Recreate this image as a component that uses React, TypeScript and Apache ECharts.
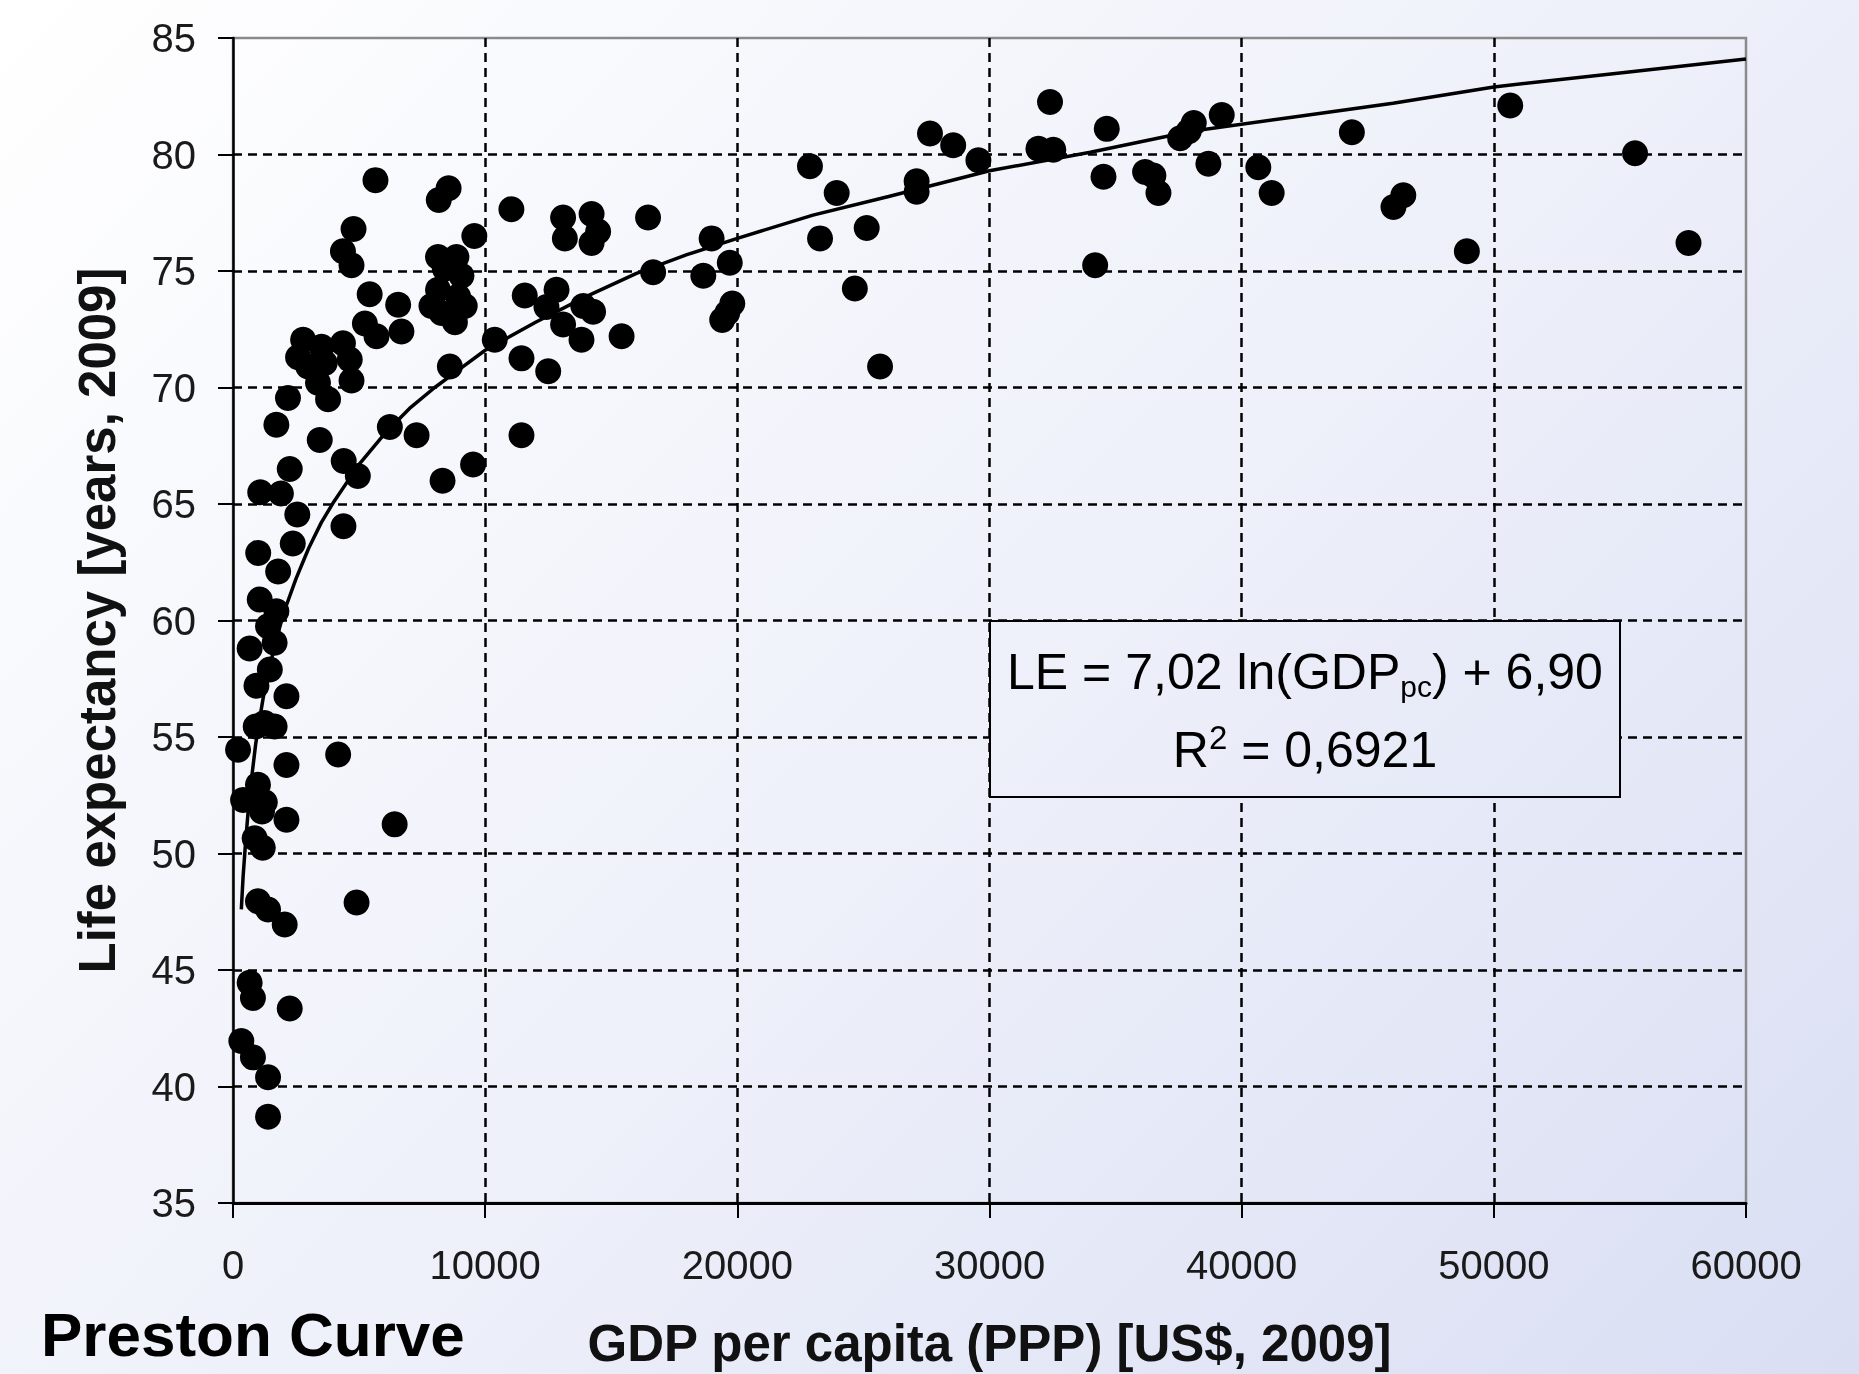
import React, { useEffect, useRef } from "react";
import * as echarts from "echarts";

// GDP per capita (PPP) [US$, 2009] of each country
const gdpPerCapita = [
  5650, 8550, 8160, 4780, 4360, 4700, 9570, 11040, 13090, 13160,
  14220, 14480, 14220, 16460, 8130, 8860, 9060, 8400, 8130, 7870,
  8930, 9190, 8800, 8270, 5420, 6550, 6680, 5230, 5690, 2780,
  2580, 2980, 3510, 3640, 4360, 4630, 4700, 3370, 3770, 2180,
  1720, 3440, 6220, 7280, 8600, 10380, 4390, 4950, 2250, 9520,
  8310, 1080, 1900, 2550, 4380, 1000, 2370, 1790, 1060, 1720,
  1390, 660, 1650, 1460, 930, 2120, 900, 1250, 1650, 200,
  4170, 2120, 990, 400, 1260, 1150, 2120, 6410, 860, 1180,
  990, 1390, 2050, 4900, 660, 790, 2250, 330, 790, 1390,
  1390, 11440, 12500, 11440, 11570, 12830, 12430, 13090, 13820, 14280,
  13890, 15410, 16660, 18980, 19700, 18650, 19800, 19600, 19400, 22880,
  23940, 23280, 25130, 24660, 25660, 27110, 27110, 27640, 28560, 29560,
  31940, 32530, 32400, 34650, 34520, 34190, 36170, 36500, 36700, 37560,
  37900, 38100, 39210, 38680, 40660, 41190, 44370, 46020, 46410, 48930,
  50650, 55600, 57720,
];

// Life expectancy [years, 2009] of each country
const lifeExpectancy = [
  78.9, 78.55, 78.05, 76.8, 75.85, 75.25, 76.5, 77.65, 77.3, 76.4,
  77.45, 76.7, 76.2, 77.3, 75.6, 75.6, 74.8, 75.1, 74.2, 73.5,
  73.9, 73.5, 72.8, 73.2, 74.0, 73.55, 72.4, 72.75, 72.2, 72.05,
  71.3, 70.9, 71.75, 71.05, 71.9, 71.2, 70.3, 70.2, 69.5, 69.55,
  68.4, 67.75, 68.3, 67.95, 70.9, 72.05, 66.85, 66.2, 66.5, 66.7,
  66.0, 65.5, 65.45, 64.55, 64.05, 62.9, 63.3, 62.1, 60.9, 60.4,
  59.75, 58.8, 59.05, 57.9, 57.2, 56.75, 55.45, 55.6, 55.45, 54.45,
  54.25, 53.8, 52.95, 52.3, 52.2, 51.8, 51.45, 51.25, 50.65, 50.25,
  47.95, 47.6, 46.95, 47.9, 44.45, 43.8, 43.35, 41.95, 41.25, 40.4,
  38.7, 71.25, 70.7, 67.95, 73.95, 74.2, 73.45, 72.7, 72.05, 73.25,
  73.5, 72.2, 74.95, 76.4, 75.35, 74.8, 73.6, 73.2, 72.9, 79.5,
  78.35, 76.4, 76.85, 74.25, 70.9, 78.85, 78.4, 80.9, 80.4, 79.75,
  80.25, 80.2, 82.25, 81.1, 79.05, 75.25, 79.25, 79.1, 78.35, 80.7,
  81.0, 81.35, 81.7, 79.6, 79.45, 78.35, 80.95, 77.75, 78.25, 75.85,
  82.1, 80.05, 76.2,
];

// Logarithmic trend line
const trendGdp = [
  330, 400, 500, 600, 700, 800, 900, 1000, 1200, 1400, 1700, 2000, 2500,
  3000, 3500, 4000, 5000, 6000, 7000, 8000, 9000, 10000, 12000, 14000,
  16000, 18000, 20000, 23000, 26000, 30000, 34000, 38000, 42000, 46000,
  50000, 55000, 60000,
];
const trendLe = [
  47.6, 49.0, 50.5, 51.8, 52.9, 53.8, 54.7, 55.4, 56.7, 57.8, 59.1, 60.3,
  61.8, 63.1, 64.2, 65.1, 66.7, 68.0, 69.1, 70.0, 70.8, 71.6, 72.8, 73.9,
  74.9, 75.7, 76.4, 77.4, 78.2, 79.3, 80.1, 81.0, 81.6, 82.2, 82.9, 83.5,
  84.1,
];

const xMin = 0;
const xMax = 60000;
const xStep = 10000;
const yMin = 35;
const yMax = 85;
const yStep = 5;

const title = "Preston Curve";
const xName = "GDP per capita (PPP) [US$, 2009]";
const yName = "Life expectancy [years, 2009]";
const eqLine1 = "{n|LE = 7,02 ln(GDP}{sub|pc}{n|) + 6,90}";
const eqLine2 = "{n|R}{sup|2}{n| = 0,6921}";

const FONT = "'Liberation Sans', Arial, Helvetica, sans-serif";

export default function App() {
  const ref = useRef<HTMLDivElement>(null);

  useEffect(() => {
    if (!ref.current) return;
    const chart = echarts.init(ref.current, null, { renderer: "svg" });

    const makeBg = () =>
      new echarts.graphic.LinearGradient(
        0,
        0,
        1617,
        1617,
        [
          { offset: 0, color: "#ffffff" },
          { offset: 0.5, color: "#eff1fa" },
          { offset: 1, color: "#d9def3" },
        ],
        true
      );

    const points = gdpPerCapita.map((g, i) => [g, lifeExpectancy[i]]);
    const trend = trendGdp.map((g, i) => [g, trendLe[i]]);

    const richBase = {
      n: { fontSize: 50, fontFamily: FONT, lineHeight: 58, fill: "#000" },
      sub: {
        fontSize: 30,
        fontFamily: FONT,
        lineHeight: 22,
        verticalAlign: "bottom",
        fill: "#000",
      },
      sup: {
        fontSize: 33,
        fontFamily: FONT,
        lineHeight: 30,
        verticalAlign: "top",
        fill: "#000",
      },
    };

    const tickFormatter = (v: number) => String(v);

    chart.setOption({
      animation: false,
      backgroundColor: "transparent",
      grid: {
        left: 233,
        top: 38,
        width: 1513,
        height: 1166,
        show: true,
        borderColor: "#8a8a8a",
        borderWidth: 2.5,
        backgroundColor: "transparent",
        containLabel: false,
      },
      xAxis: {
        type: "value",
        min: xMin,
        max: xMax,
        interval: xStep,
        name: xName,
        nameLocation: "middle",
        nameGap: 115,
        nameTextStyle: {
          fontFamily: FONT,
          fontSize: 51,
          fontWeight: "bold",
          color: "#111",
        },
        axisLine: { show: true, lineStyle: { color: "#000", width: 3 } },
        axisTick: {
          show: true,
          inside: false,
          length: 15,
          lineStyle: { color: "#000", width: 2 },
        },
        axisLabel: {
          fontFamily: FONT,
          fontSize: 40,
          color: "#1a1a1a",
          margin: 42,
          formatter: tickFormatter,
        },
        splitLine: {
          show: true,
          showMinLine: false,
          showMaxLine: false,
          lineStyle: { color: "#000", width: 2.5, type: [9, 6] },
        },
      },
      yAxis: {
        type: "value",
        min: yMin,
        max: yMax,
        interval: yStep,
        name: yName,
        nameLocation: "middle",
        nameRotate: 90,
        nameGap: 110,
        nameTextStyle: {
          fontFamily: FONT,
          fontSize: 51,
          fontWeight: "bold",
          color: "#111",
        },
        axisLine: { show: true, lineStyle: { color: "#000", width: 2.5 } },
        axisTick: {
          show: true,
          inside: false,
          length: 15,
          lineStyle: { color: "#000", width: 2 },
        },
        axisLabel: {
          fontFamily: FONT,
          fontSize: 40,
          color: "#1a1a1a",
          margin: 37,
          formatter: tickFormatter,
        },
        splitLine: {
          show: true,
          showMinLine: false,
          showMaxLine: false,
          lineStyle: { color: "#000", width: 2.5, type: [9, 6] },
        },
      },
      graphic: [
        {
          type: "rect",
          z: -100,
          silent: true,
          shape: { x: 0, y: 0, width: 1859, height: 1374 },
          style: { fill: makeBg() },
        },
        {
          type: "rect",
          z: 100,
          silent: true,
          shape: { x: 990, y: 621, width: 630, height: 176 },
          style: { fill: makeBg(), stroke: "#000", lineWidth: 2 },
        },
        {
          type: "text",
          z: 101,
          x: 1305,
          y: 672,
          silent: true,
          style: {
            text: eqLine1,
            align: "center",
            verticalAlign: "middle",
            rich: richBase,
          },
        },
        {
          type: "text",
          z: 101,
          x: 1305,
          y: 750,
          silent: true,
          style: {
            text: eqLine2,
            align: "center",
            verticalAlign: "middle",
            rich: richBase,
          },
        },
        {
          type: "text",
          z: 101,
          x: 41,
          y: 1334,
          silent: true,
          style: {
            text: title,
            fontFamily: FONT,
            fontSize: 62,
            lineHeight: 56,
            fontWeight: "bold",
            fill: "#000",
            align: "left",
            verticalAlign: "middle",
          },
        },
      ],
      series: [
        {
          type: "line",
          data: trend,
          showSymbol: false,
          symbol: "none",
          smooth: false,
          lineStyle: { color: "#000", width: 3.5 },
          z: 2,
          silent: true,
        },
        {
          type: "scatter",
          data: points,
          symbol: "circle",
          symbolSize: 26,
          itemStyle: { color: "#000", opacity: 1 },
          z: 3,
          silent: true,
        },
      ],
    });

    return () => chart.dispose();
  }, []);

  return (
    <div
      ref={ref}
      style={{
        position: "fixed",
        left: 0,
        top: 0,
        width: 1859,
        height: 1374,
      }}
    />
  );
}
